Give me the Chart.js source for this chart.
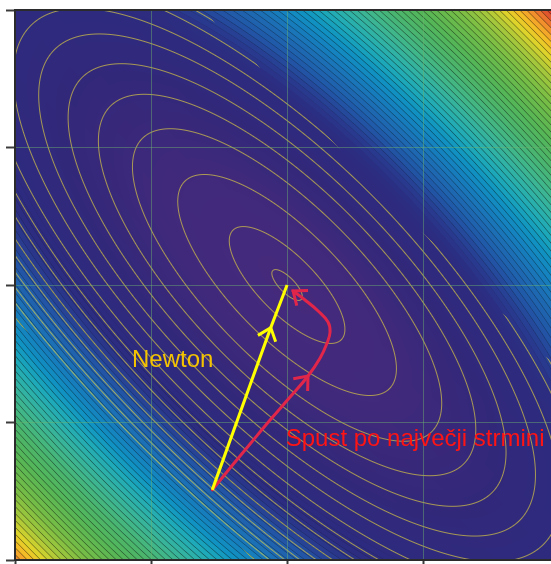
<!DOCTYPE html>
<html>
<head>
<meta charset="utf-8">
<script src="https://cdn.jsdelivr.net/npm/chart.js@4.4.0/dist/chart.umd.min.js"></script>
<style>
  html, body { margin: 0; padding: 0; background: #fff; }
  #wrap { width: 551px; height: 564px; }
</style>
</head>
<body>
<div id="wrap"><canvas id="descentChart" width="551" height="564"></canvas></div>
<script>
// axes
const xTicks = [-2, -1, 0, 1];
const yTicks = [-2, -1, 0, 1, 2];
const xRange = [-2, 1.94];
const yRange = [-2, 2];

// bowl f(x, y) = a*(x + y)^2 + b*(x - y)^2, minimum at the origin
const bowlA = 2.95;
const bowlB = 0.41;
// colours run a little further out on the lower-left side than on the upper-right
const colourSkew = 0.06;

// thin yellow contour levels of f, traced only where x + y lies inside contourUSpan
const contourLevels = [0.018, 0.26, 0.93, 1.86, 2.77, 3.73, 4.8, 5.83, 6.98, 8.1, 9.2, 10.4, 11.4, 12.5, 13.6, 14.8, 16.0];
const contourUSpan = [-2.25, 1.38];
// filled bands are steps of sqrt(f); their edges get outlined from bandEdgeStart on
const bandStep = 0.085;
const bandEdgeStart = 2.6;

// Newton step (straight) and steepest descent path
const newtonX = [-0.55, -0.12, 0];
const newtonY = [-1.49, -0.31, 0];
const descentX = [-0.55, -0.419, -0.272, -0.125, 0.022, 0.154, 0.243, 0.294, 0.316, 0.301, 0.228, 0.132, 0.044];
const descentY = [-1.49, -1.331, -1.156, -0.982, -0.815, -0.662, -0.531, -0.422, -0.342, -0.269, -0.189, -0.109, -0.044];

// colormap, keyed by sqrt(f) / (2*sqrt(a)) (distance along the steep diagonal)
const cmapStops = [
  [0.00, 70, 42, 124],
  [0.30, 64, 41, 123],
  [0.55, 50, 40, 122],
  [0.80, 44, 44, 128],
  [0.88, 40, 62, 146],
  [0.95, 33, 88, 168],
  [1.02, 30, 106, 178],
  [1.10, 22, 128, 190],
  [1.17, 16, 148, 194],
  [1.24, 30, 170, 184],
  [1.31, 48, 178, 165],
  [1.38, 64, 182, 140],
  [1.46, 74, 181, 110],
  [1.56, 86, 182, 86],
  [1.68, 118, 189, 70],
  [1.77, 162, 199, 60],
  [1.85, 225, 212, 42],
  [1.90, 246, 186, 38],
  [1.95, 240, 136, 46],
  [2.01, 218, 64, 44]
];

function colormap(t) {
  if (t <= cmapStops[0][0]) return cmapStops[0].slice(1);
  for (let i = 1; i < cmapStops.length; i++) {
    const a = cmapStops[i - 1], b = cmapStops[i];
    if (t <= b[0]) {
      const k = (t - a[0]) / (b[0] - a[0]);
      return [a[1] + (b[1] - a[1]) * k, a[2] + (b[2] - a[2]) * k, a[3] + (b[3] - a[3]) * k];
    }
  }
  return cmapStops[cmapStops.length - 1].slice(1);
}

const lineRGB = [226, 210, 64];
const clamp01 = v => Math.max(0, Math.min(1, v));

function renderField(ctx, xs, ys, area, w, h) {
  const img = ctx.createImageData(w, h);
  const d = img.data;
  const pxX = Math.abs(xs.getPixelForValue(1) - xs.getPixelForValue(0));
  const pxY = Math.abs(ys.getPixelForValue(1) - ys.getPixelForValue(0));
  const sScale = 2 * Math.sqrt(bowlA);

  for (let j = 0; j < h; j++) {
    const yv = ys.getValueForPixel(area.top + j + 0.5);
    for (let i = 0; i < w; i++) {
      const xv = xs.getValueForPixel(area.left + i + 0.5);
      const u = xv + yv, v = xv - yv;
      const f = bowlA * u * u + bowlB * v * v;
      const fx = 2 * bowlA * u + 2 * bowlB * v;
      const fy = 2 * bowlA * u - 2 * bowlB * v;
      const gf = Math.hypot(fx / pxX, fy / pxY) || 1e-9;   // |grad f| per pixel
      const s = Math.sqrt(f);

      const band = Math.floor(s / bandStep);
      const t = (band + 0.5) * bandStep / sScale + colourSkew * u / (1 + 0.25 * u * u);
      let [r, g, b] = colormap(t);

      // darker band edges, faded in past bandEdgeStart and softer on dark fills
      if (s > bandEdgeStart) {
        const gs = gf / (2 * s);
        const dist = Math.abs(s - Math.round(s / bandStep) * bandStep) / gs;
        const lum = 0.3 * r + 0.59 * g + 0.11 * b;
        const strength = 0.5 * (0.35 + 0.65 * clamp01((lum - 50) / 70));
        const k = 1 - clamp01(0.8 - dist) * strength * clamp01((s - bandEdgeStart) / 0.3);
        r *= k; g *= k; b *= k;
      }

      // yellow contour lines
      if (u > contourUSpan[0] && u < contourUSpan[1]) {
        let best = Infinity;
        for (const L of contourLevels) {
          const dd = Math.abs(f - L);
          if (dd < best) best = dd;
        }
        const a = clamp01(1.0 - best / gf) * 0.66;
        if (a > 0) {
          r += (lineRGB[0] - r) * a;
          g += (lineRGB[1] - g) * a;
          b += (lineRGB[2] - b) * a;
        }
      }

      const o = (j * w + i) * 4;
      d[o] = r; d[o + 1] = g; d[o + 2] = b; d[o + 3] = 255;
    }
  }
  return img;
}

const fieldPlugin = {
  id: 'field',
  beforeDraw(chart) {
    const { ctx, chartArea: area, scales } = chart;
    const w = Math.round(area.right - area.left);
    const h = Math.round(area.bottom - area.top);
    if (!this.img || this.img.width !== w || this.img.height !== h) {
      this.img = renderField(ctx, scales.x, scales.y, area, w, h);
    }
    ctx.putImageData(this.img, Math.round(area.left), Math.round(area.top));
  }
};

const arrowPlugin = {
  id: 'arrows',
  afterDatasetsDraw(chart) {
    const ctx = chart.ctx;
    chart.data.datasets.forEach((ds, k) => {
      const pts = chart.getDatasetMeta(k).data;
      (ds.arrowAt || []).forEach(idx => {
        const p = pts[idx], q = pts[idx - 1];
        const ang = Math.atan2(p.y - q.y, p.x - q.x);
        const len = 15, spread = 0.68;
        ctx.save();
        ctx.strokeStyle = ds.borderColor;
        ctx.lineWidth = 3;
        ctx.lineCap = 'butt';
        ctx.lineJoin = 'miter';
        ctx.beginPath();
        ctx.moveTo(p.x - len * Math.cos(ang - spread), p.y - len * Math.sin(ang - spread));
        ctx.lineTo(p.x, p.y);
        ctx.lineTo(p.x - len * Math.cos(ang + spread), p.y - len * Math.sin(ang + spread));
        ctx.stroke();
        ctx.restore();
      });
    });
  }
};

// method names written next to the paths
const pathLabels = [
  { text: 'Newton', x: -1.14, y: -0.596, color: '#f5c400' },
  { text: 'Spust po največji strmini', x: -0.01, y: -1.171, color: '#ff1414' }
];

const labelPlugin = {
  id: 'pathLabels',
  afterDatasetsDraw(chart) {
    const { ctx, scales } = chart;
    ctx.save();
    ctx.font = '24px "Liberation Sans", Arial, sans-serif';
    ctx.textBaseline = 'alphabetic';
    ctx.textAlign = 'left';
    pathLabels.forEach(l => {
      ctx.fillStyle = l.color;
      ctx.fillText(l.text, scales.x.getPixelForValue(l.x), scales.y.getPixelForValue(l.y));
    });
    ctx.restore();
  }
};

const framePlugin = {
  id: 'frame',
  afterDraw(chart) {
    const { ctx, chartArea: area } = chart;
    ctx.save();
    ctx.strokeStyle = '#2b2b2b';
    ctx.lineWidth = 2;
    ctx.beginPath();
    ctx.moveTo(area.left - 1, area.top);
    ctx.lineTo(area.right, area.top);
    ctx.stroke();
    ctx.restore();
  }
};

const toPoints = (xs, ys) => xs.map((x, i) => ({ x, y: ys[i] }));

const gridStyle = {
  color: 'rgba(110, 180, 110, 0.45)',
  lineWidth: 1,
  drawTicks: true,
  tickLength: 9,
  tickColor: '#3c3c3c',
  tickWidth: 2
};

new Chart(document.getElementById('descentChart').getContext('2d'), {
  type: 'scatter',
  data: {
    datasets: [
      {
        label: 'Newton',
        data: toPoints(newtonX, newtonY),
        showLine: true,
        borderColor: '#ffff00',
        borderWidth: 3,
        pointRadius: 0,
        tension: 0,
        arrowAt: [1]
      },
      {
        label: 'Spust po največji strmini',
        data: toPoints(descentX, descentY),
        showLine: true,
        borderColor: '#e1264a',
        borderWidth: 3,
        borderCapStyle: 'round',
        borderJoinStyle: 'round',
        pointRadius: 0,
        tension: 0.4,
        arrowAt: [5, 12]
      }
    ]
  },
  options: {
    responsive: false,
    animation: false,
    devicePixelRatio: 1,
    events: [],
    layout: { padding: { left: 15, top: 10, right: 0, bottom: 4 } },
    plugins: { legend: { display: false }, tooltip: { enabled: false } },
    scales: {
      x: {
        type: 'linear',
        min: xRange[0],
        max: xRange[1],
        afterBuildTicks: s => { s.ticks = xTicks.map(value => ({ value })); },
        afterFit: s => { s.height = 0; },
        ticks: { display: false },
        grid: gridStyle,
        border: { display: true, color: '#2b2b2b', width: 2 }
      },
      y: {
        type: 'linear',
        min: yRange[0],
        max: yRange[1],
        afterBuildTicks: s => { s.ticks = yTicks.map(value => ({ value })); },
        afterFit: s => { s.width = 0; },
        ticks: { display: false },
        grid: gridStyle,
        border: { display: true, color: '#2b2b2b', width: 2 }
      }
    }
  },
  plugins: [fieldPlugin, arrowPlugin, labelPlugin, framePlugin]
});
</script>
</body>
</html>
